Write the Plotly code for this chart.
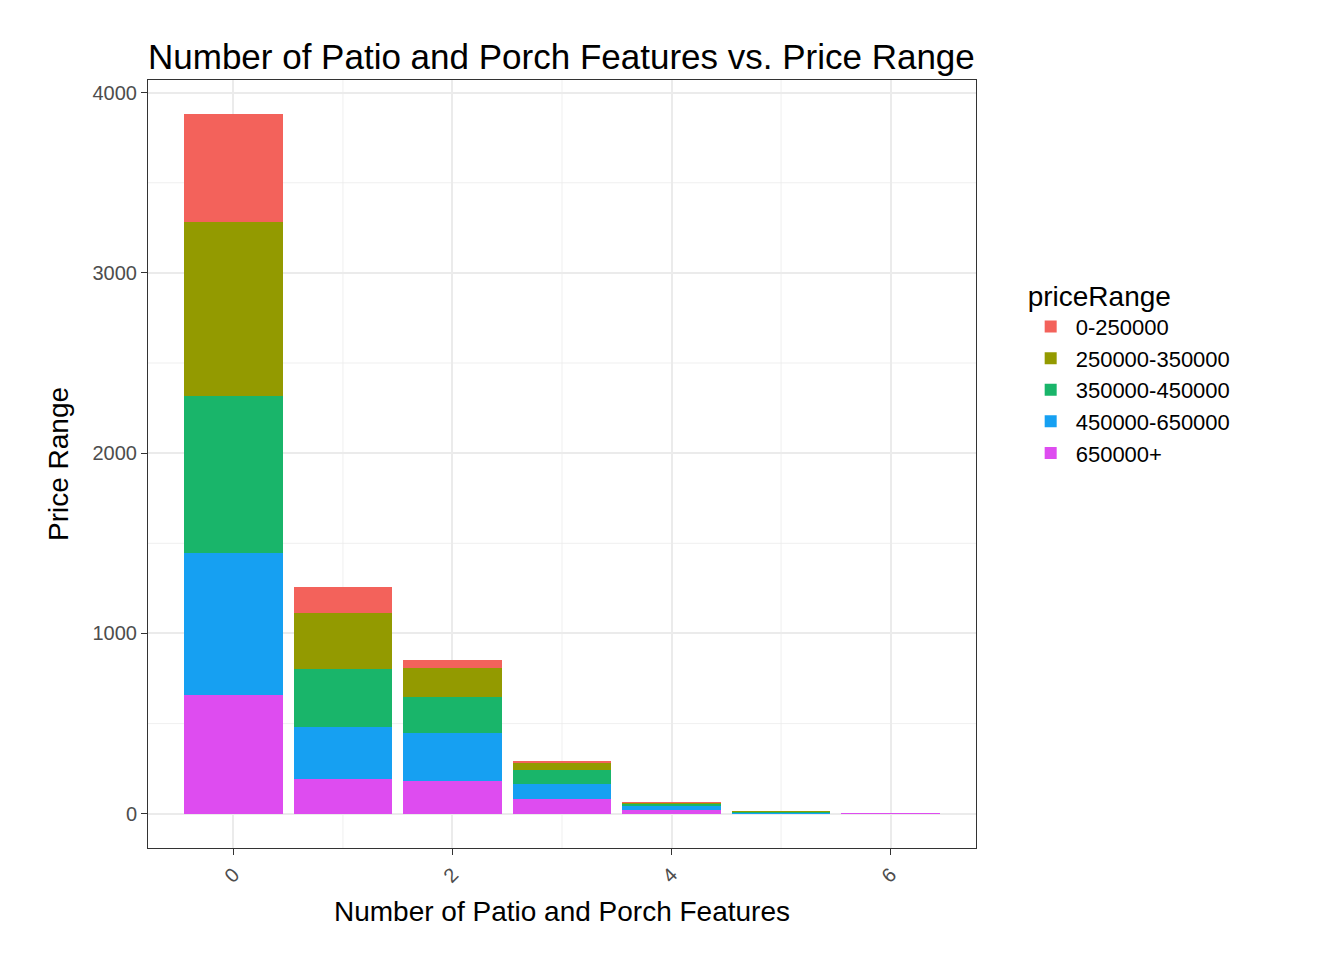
import plotly.graph_objects as go

features = [0, 1, 2, 3, 4, 5, 6]
price_ranges = ["0-250000", "250000-350000", "350000-450000", "450000-650000", "650000+"]
colors = ["#F3625B", "#939A00", "#19B56A", "#16A0F2", "#DE4CF0"]

counts = {
    "0-250000":      [599, 144, 44, 11, 1, 0, 0],
    "250000-350000": [965, 311, 161, 39, 7, 2, 0],
    "350000-450000": [871, 321, 200, 77, 8, 7, 0],
    "450000-650000": [788, 289, 266, 84, 24, 3, 0],
    "650000+":       [660, 194, 183, 83, 23, 3, 2],
}

fig = go.Figure()
# bottom-up stacking: last level at bottom
for name, col in reversed(list(zip(price_ranges, colors))):
    fig.add_trace(go.Bar(x=features, y=counts[name], name=name,
                         marker=dict(color=col, line=dict(width=0))))

axis = dict(showline=True, linecolor="#333333", mirror=True, ticks="outside",
            tickcolor="#333333", ticklen=6, gridcolor="#EBEBEB", gridwidth=1.5,
            zeroline=False, tickfont=dict(size=20, color="#4D4D4D"))

fig.update_layout(
    barmode="stack", bargap=0.1,
    width=1344, height=960,
    plot_bgcolor="white", paper_bgcolor="white",
    font=dict(family="Liberation Sans, Arial", color="black"),
    title=dict(text="Number of Patio and Porch Features vs. Price Range",
               xref="paper", x=0, y=0.962, font=dict(size=35)),
    margin=dict(l=140, r=376, t=72, b=120),
    legend=dict(title=dict(text="priceRange", font=dict(size=28)), traceorder="reversed",
                x=1.06, y=0.62, yanchor="middle", font=dict(size=22), itemwidth=40,
                tracegroupgap=8),
    xaxis=dict(axis, title=dict(text="Number of Patio and Porch Features", font=dict(size=28)),
               tickvals=[0, 2, 4, 6], tickangle=-45, range=[-0.78, 6.78]),
    yaxis=dict(axis, title=dict(text="Price Range", font=dict(size=28)),
               tickvals=[0, 1000, 2000, 3000, 4000], range=[-190, 4070]),
)
for v in [500, 1500, 2500, 3500]:
    fig.add_hline(y=v, line=dict(color="#EBEBEB", width=0.8), layer="below")
for v in [1, 3, 5]:
    fig.add_vline(x=v, line=dict(color="#EBEBEB", width=0.8), layer="below")

fig.write_html("out.html")
